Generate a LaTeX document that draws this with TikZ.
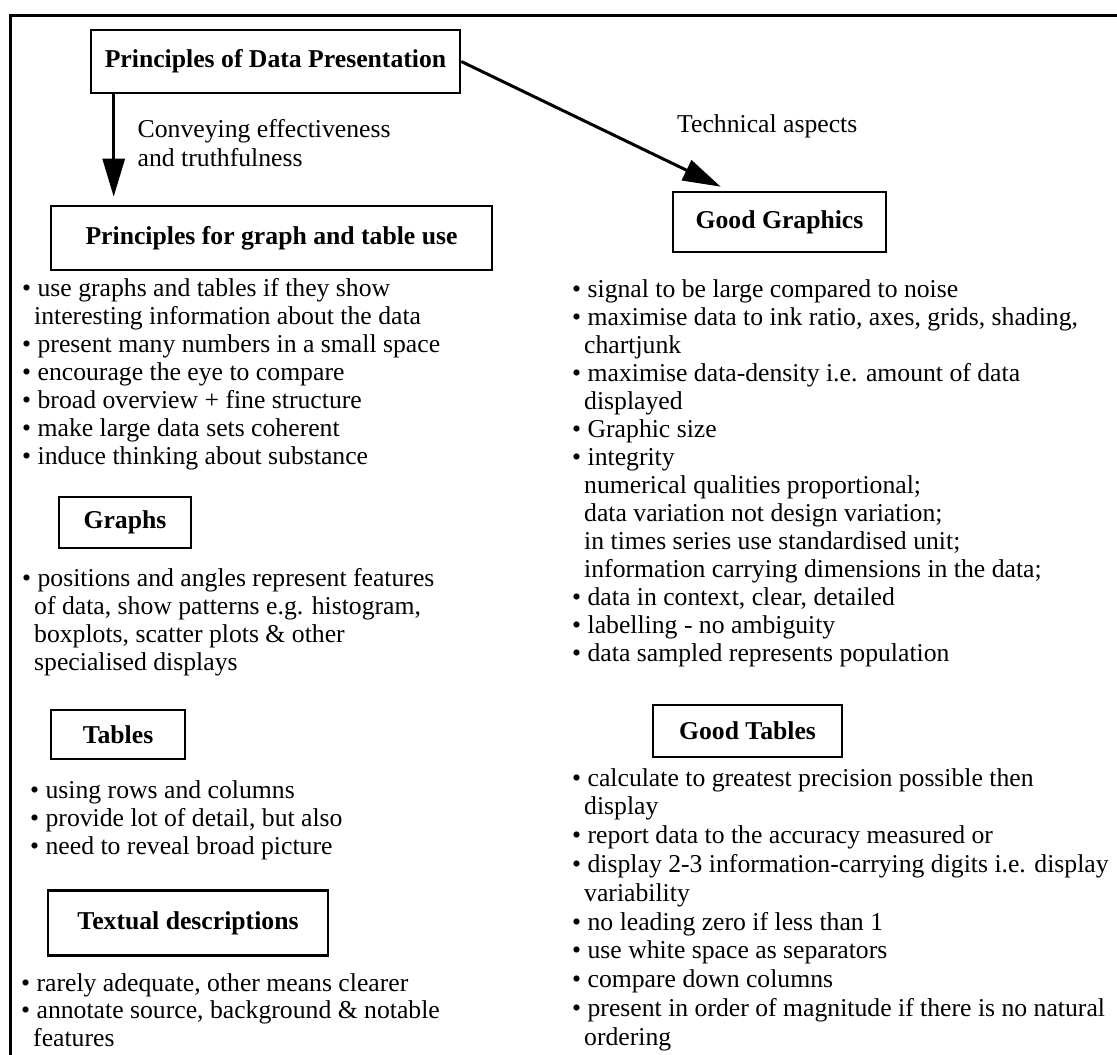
\documentclass[tikz,border=0pt]{standalone}
\usepackage{fontspec}
\setmainfont{Liberation Serif}
\usetikzlibrary{arrows.meta}
\newcommand{\lstx}[1]{\begin{tabular}[t]{@{}l@{}}#1\end{tabular}}
\newcommand{\itm}{•~}
\newcommand{\cnt}{\hspace*{12pt}}
\begin{document}
\begin{tikzpicture}[x=1pt,y=-1pt,
  every node/.style={font=\fontsize{25.7}{28}\selectfont, inner sep=0pt},
  boxnode/.style={draw, line width=2.6pt, font=\fontsize{25.7}{28}\selectfont\bfseries, inner sep=0pt},
  txt/.style={anchor=base west},
  arr/.style={line width=3pt, -{Triangle[length=38pt,width=22pt]}}]
\useasboundingbox (0,0) rectangle (1117,1055);

% frame
\coordinate (fa) at (1117,15);
\coordinate (fb) at (10.5,15);
\coordinate (fc) at (10.5,1055);
\draw[line width=3pt] (fa) -- (fb) -- (fc);

% boxes
\node[boxnode, minimum width=369pt, minimum height=63pt] (top) at (275.5,61.5) {Principles of Data Presentation\hspace{8pt}};
\node[boxnode, minimum width=441pt, minimum height=64pt] (box2) at (271.5,238) {Principles for graph and table use\hspace{12pt}};
\node[boxnode, minimum width=213pt, minimum height=60pt] (gg) at (779.5,222) {Good Graphics};
\node[boxnode, minimum width=132pt, minimum height=51pt] (graphs) at (125,522.5) {Graphs\hspace{8pt}};
\node[boxnode, minimum width=134pt, minimum height=49pt] (tables) at (118,734.5) {Tables\hspace{10pt}};
\node[boxnode, minimum width=189pt, minimum height=52pt] (gt) at (747.5,731) {Good Tables};
\node[boxnode, minimum width=280pt, minimum height=65pt] (textual) at (188,923) {Textual descriptions\hspace{16pt}};

% arrows
\draw[arr] ([xshift=24pt]top.south west) -- ([xshift=64pt,yshift=8pt]box2.north west);
\draw[arr] (top.east) -- ([xshift=49pt,yshift=4pt]gg.north west);

% labels
\node[txt] (lab1) at (137.5,137.5) {\lstx{Conveying effectiveness\\[1pt] and truthfulness}};
\node[txt] (lab2) at (677,132) {Technical aspects};

% left lists
\node[txt] (l1) at (22,296) {\lstx{%
\itm use graphs and tables if they show\\
\cnt interesting information about the data\\
\itm present many numbers in a small space\\
\itm encourage the eye to compare\\
\itm broad overview + fine structure\\
\itm make large data sets coherent\\
\itm induce thinking about substance}};

\node[txt] (l2) at (22,586) {\lstx{%
\itm positions and angles represent features\\
\cnt of data, show patterns e.g. histogram,\\
\cnt boxplots, scatter plots \& other\\
\cnt specialised displays}};

\node[txt] (l3) at (30,798) {\lstx{%
\itm using rows and columns\\
\itm provide lot of detail, but also\\
\itm need to reveal broad picture}};

\node[txt, font=\fontsize{25.7}{27.5}\selectfont] (l4) at (21,991) {\lstx{%
\itm rarely adequate, other means clearer\\
\itm annotate source, background \& notable\\
\cnt features}};

% right lists
\node[txt] (r1) at (572,297) {\lstx{%
\itm signal to be large compared to noise\\
\itm maximise data to ink ratio, axes, grids, shading,\\
\cnt chartjunk\\
\itm maximise data-density i.e. amount of data\\
\cnt displayed\\
\itm Graphic size\\
\itm integrity\\
\cnt numerical qualities proportional;\\
\cnt data variation not design variation;\\
\cnt in times series use standardised unit;\\
\cnt information carrying dimensions in the data;\\
\itm data in context, clear, detailed\\
\itm labelling - no ambiguity\\
\itm data sampled represents population}};

\node[txt, font=\fontsize{25.7}{28.8}\selectfont] (r2) at (572,786) {\lstx{%
\itm calculate to greatest precision possible then\\
\cnt display\\
\itm report data to the accuracy measured or\\
\itm display 2-3 information-carrying digits i.e. display\\
\cnt variability\\
\itm no leading zero if less than 1\\
\itm use white space as separators\\
\itm compare down columns\\
\itm present in order of magnitude if there is no natural\\
\cnt ordering}};
\end{tikzpicture}
\end{document}
